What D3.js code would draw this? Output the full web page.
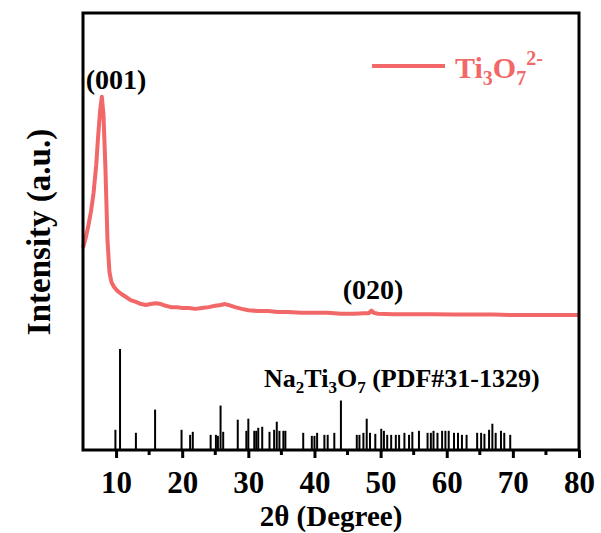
<!DOCTYPE html>
<html>
<head>
<meta charset="utf-8">
<script src="https://cdn.jsdelivr.net/npm/d3@7"></script>
<style>
  body { margin: 0; background: #fff; }
  text { font-family: "Liberation Serif", "Times New Roman", serif; font-weight: bold; }
</style>
</head>
<body>
<div id="chart"></div>
<script>
// measured XRD pattern (arbitrary units)
const twoTheta = [5.0, 5.4, 5.8, 6.2, 6.6, 7.0, 7.3, 7.6, 7.85, 8.1, 8.4, 8.7, 9.0, 9.3, 9.7,
  10.2, 10.8, 11.5, 12.2, 13.0, 13.8, 14.5, 15.2, 16.0, 16.8, 17.5, 18.3, 19.2, 20.0, 21.0,
  22.0, 23.0, 24.0, 25.0, 25.8, 26.5, 27.2, 28.0, 29.0, 30.0, 31.5, 33.0, 34.5, 36.0, 38.0,
  40.0, 42.0, 44.0, 46.0, 47.5, 48.2, 48.6, 49.0, 49.6, 52.0, 55.0, 58.0, 61.0, 64.0, 67.0,
  70.0, 74.0, 77.0, 80.0]
const intensity = [465, 487, 515, 547, 590, 654, 722, 779, 809, 768, 642, 483, 410, 387, 376,
  367, 360, 353, 346, 342, 337, 335, 337, 339, 337, 333, 330, 330, 328, 328,
  326, 328, 330, 333, 335, 337, 334, 330, 326, 323, 321, 321, 319, 319, 317,
  317, 317, 315, 315, 316, 316, 322, 317, 315, 314, 314, 314, 313, 313, 313,
  312, 312, 312, 312]

// reference card Na2Ti3O7 (PDF#31-1329), relative intensity
const refPos = [9.9, 10.6, 13.0, 15.9, 19.9, 21.2, 21.6, 24.3, 25.1, 25.4, 25.8, 26.2, 28.4,
  29.7, 30.0, 30.9, 31.2, 31.5, 32.1, 33.2, 33.9, 34.3, 34.7, 35.3, 35.6, 38.3, 39.6, 40.0,
  40.4, 41.5, 42.0, 43.0, 44.0, 46.4, 46.8, 47.4, 47.9, 48.4, 49.2, 50.1, 50.5, 51.0, 51.6,
  52.3, 52.8, 53.6, 54.3, 54.8, 55.8, 57.1, 57.6, 58.0, 58.6, 59.3, 59.8, 60.3, 61.1, 61.7,
  62.3, 63.0, 64.6, 65.2, 65.7, 66.4, 66.9, 67.4, 68.2, 68.7, 69.6]
const refInt = [20, 100, 17, 40, 20, 15, 18, 15, 15, 14, 44, 18, 30,
  19, 31, 19, 19, 22, 23, 18, 20, 28, 19, 19, 19, 17, 14, 14,
  17, 15, 15, 17, 49, 15, 15, 17, 31, 17, 16, 21, 19, 15, 15,
  15, 15, 17, 15, 18, 19, 17, 17, 19, 17, 19, 19, 19, 17, 17,
  15, 15, 17, 17, 16, 20, 26, 17, 19, 17, 15]

const xTicks = [10, 20, 30, 40, 50, 60, 70, 80]
const xMinor = [15, 25, 35, 45, 55, 65, 75]

const W = 601, H = 533
const LEFT = 83, RIGHT = 579, TOP = 13, BOTTOM = 450
const RED = '#f26868'
const FONT = '"Liberation Serif", "Times New Roman", serif'

const svg = d3.select('#chart').append('svg')
  .attr('width', W).attr('height', H)

const x = d3.scaleLinear().domain([5, 80]).range([LEFT, RIGHT])
const y = d3.scaleLinear().domain([0, 1000]).range([BOTTOM + 2, TOP])
const yRef = d3.scaleLinear().domain([0, 100]).range([BOTTOM, 349])

// reference sticks
svg.append('g').selectAll('line')
  .data(refPos.map((p, i) => ({p, v: refInt[i]})))
  .enter().append('line')
  .attr('x1', d => x(d.p)).attr('x2', d => x(d.p))
  .attr('y1', yRef(0)).attr('y2', d => yRef(d.v))
  .attr('stroke', '#000').attr('stroke-width', 2)

// measured curve
const line = d3.line().x(d => x(d[0])).y(d => y(d[1]))
svg.append('path')
  .datum(twoTheta.map((t, i) => [t, intensity[i]]))
  .attr('d', line)
  .attr('fill', 'none')
  .attr('stroke', RED)
  .attr('stroke-width', 4)
  .attr('stroke-linejoin', 'round')

// frame
svg.append('rect')
  .attr('x', LEFT).attr('y', TOP)
  .attr('width', RIGHT - LEFT).attr('height', BOTTOM - TOP)
  .attr('fill', 'none').attr('stroke', '#000').attr('stroke-width', 3)

// bottom axis
const xAxis = d3.axisBottom(x).tickValues(xTicks).tickSize(8).tickSizeOuter(0)
const gx = svg.append('g')
  .attr('transform', `translate(0, ${BOTTOM})`)
  .call(xAxis)
gx.select('.domain').remove()
gx.selectAll('.tick line').attr('stroke', '#000').attr('stroke-width', 3)
gx.selectAll('.tick text')
  .attr('y', 43).attr('dy', null)
  .attr('font-size', 31).attr('fill', '#000')
  .attr('font-family', FONT)
  .attr('font-weight', 'bold')

svg.append('g').selectAll('line')
  .data(xMinor)
  .enter().append('line')
  .attr('x1', d => x(d)).attr('x2', d => x(d))
  .attr('y1', BOTTOM).attr('y2', BOTTOM + 5)
  .attr('stroke', '#000').attr('stroke-width', 3)

// axis titles
svg.append('text')
  .attr('x', (LEFT + RIGHT) / 2)
  .attr('y', 526)
  .attr('text-anchor', 'middle')
  .attr('font-size', 29)
  .text('2θ (Degree)')

svg.append('text')
  .attr('x', -232)
  .attr('y', 50)
  .attr('text-anchor', 'middle')
  .attr('font-size', 33)
  .attr('transform', 'rotate(-90)')
  .text('Intensity (a.u.)')

// peak labels
svg.append('text')
  .attr('x', 116).attr('y', 89)
  .attr('text-anchor', 'middle')
  .attr('font-size', 28)
  .text('(001)')

svg.append('text')
  .attr('x', 373).attr('y', 299)
  .attr('text-anchor', 'middle')
  .attr('font-size', 28)
  .text('(020)')

// card label
const card = svg.append('text')
  .attr('x', 264).attr('y', 387)
  .attr('font-size', 26)
card.append('tspan').text('Na')
card.append('tspan').attr('font-size', 17).attr('dy', 6).text('2')
card.append('tspan').attr('dy', -6).text('Ti')
card.append('tspan').attr('font-size', 17).attr('dy', 6).text('3')
card.append('tspan').attr('dy', -6).text('O')
card.append('tspan').attr('font-size', 17).attr('dy', 6).text('7')
card.append('tspan').attr('dy', -6).text(' (PDF#31-1329)')

// legend
svg.append('line')
  .attr('x1', 372).attr('x2', 445)
  .attr('y1', 66).attr('y2', 66)
  .attr('stroke', RED).attr('stroke-width', 4)

const leg = svg.append('text')
  .attr('x', 455).attr('y', 78)
  .attr('font-size', 30)
  .attr('fill', RED)
leg.append('tspan').text('Ti')
leg.append('tspan').attr('font-size', 20).attr('dy', 7).text('3')
leg.append('tspan').attr('dy', -7).text('O')
leg.append('tspan').attr('font-size', 20).attr('dy', 7).text('7')
leg.append('tspan').attr('font-size', 20).attr('dy', -20).text('2-')
</script>
</body>
</html>
